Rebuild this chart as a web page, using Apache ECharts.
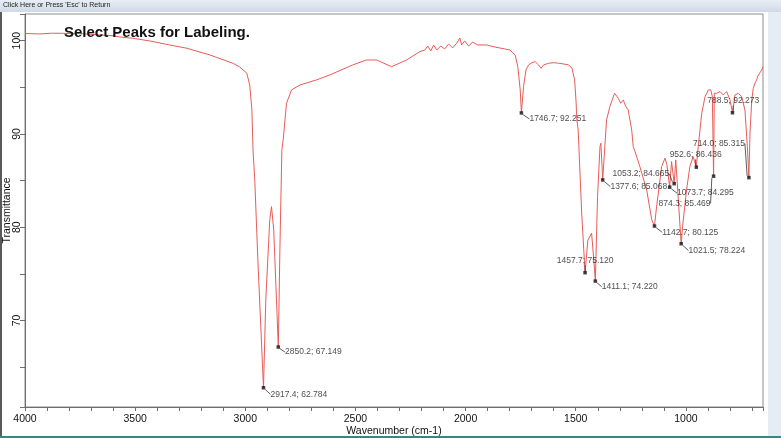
<!DOCTYPE html>
<html>
<head>
<meta charset="utf-8">
<script src="https://cdn.jsdelivr.net/npm/echarts@6/dist/echarts.min.js"></script>
<style>
    html, body { margin: 0; padding: 0; background: #fff; }
    #ChartIR { width: 781px; height: 438px; }
</style>
</head>
<body>
<div id="ChartIR"></div>
<script>
// spectrum: [wavenumber, transmittance]
const spectrum = [
    [4000, 100.77], [3933, 100.72], [3880, 100.80], [3829, 100.79], [3790, 100.74], [3752, 100.77],
    [3700, 100.68], [3661, 100.61], [3610, 100.55], [3570, 100.40], [3511, 100.26], [3434, 99.97],
    [3343, 99.54], [3266, 99.19], [3161, 98.47], [3057, 97.58], [3025, 97.18], [2993, 96.51],
    [2980, 95.25], [2970, 92.57], [2965, 88.28], [2957, 85.07], [2952, 84.86], [2943, 76.5],
    [2917.4, 62.784], [2907, 72.2], [2889, 80.8], [2881, 82.21], [2871, 79.72], [2862, 74.36],
    [2850.2, 67.149], [2843, 77.57], [2834, 88.29], [2828, 89.36], [2813, 93.29], [2790, 94.72],
    [2752, 95.25], [2677, 95.79], [2616, 96.33], [2512, 97.40], [2450, 97.93], [2404, 97.93],
    [2336, 97.21], [2268, 97.93], [2208, 98.82], [2185, 99.0], [2172, 99.43], [2158, 98.90],
    [2145, 99.54], [2131, 99.0], [2113, 99.43], [2095, 99.11], [2077, 99.65], [2059, 99.22],
    [2040, 99.75], [2026, 100.29], [2018, 99.54], [2004, 99.97], [1986, 99.43], [1968, 99.86],
    [1945, 99.54], [1905, 99.54], [1867, 99.32], [1822, 99.11], [1799, 99.0], [1790, 98.82],
    [1775, 98.47], [1763, 97.21], [1752, 94.72], [1746.7, 92.251], [1737, 95.07], [1726, 96.86],
    [1714, 97.40], [1699, 97.64], [1684, 97.75], [1669, 97.40], [1657, 97.04], [1646, 97.40],
    [1623, 97.58], [1600, 97.64], [1578, 97.58], [1555, 97.50], [1532, 97.40], [1517, 97.04],
    [1505, 95.79], [1499, 93.65], [1495, 91.51], [1489, 90.43], [1473, 81.51], [1457.7, 75.120],
    [1445, 78.6], [1428, 79.36], [1418, 76.5], [1411.1, 74.220], [1401, 83.29], [1390, 88.64],
    [1386, 89.0], [1377.6, 85.068], [1368, 88.64], [1360, 91.50], [1345, 92.93], [1324, 94.36],
    [1307, 93.83], [1296, 93.29], [1284, 93.65], [1273, 92.93], [1262, 92.57], [1246, 90.43],
    [1239, 88.64], [1231, 88.11], [1209, 86.50], [1178, 84.0], [1155, 80.79], [1142.7, 80.125],
    [1133, 82.21], [1110, 86.50], [1095, 87.40], [1086, 86.68], [1073.7, 84.295], [1065, 87.04],
    [1053.2, 84.665], [1046, 87.22], [1037, 87.43], [1021.5, 78.224], [1015, 80.07], [997, 84.0],
    [982, 86.50], [967, 87.57], [952.6, 86.436], [944, 88.64], [928, 92.22], [913, 94.0],
    [898, 94.72], [887, 94.72], [880, 94.0], [874.3, 85.469], [871, 94.36], [860, 94.36],
    [845, 94.54], [830, 94.18], [815, 94.54], [800, 93.65], [788.5, 92.273], [777, 94.18],
    [762, 94.36], [747, 94.0], [732, 92.57], [721, 88.64], [714.0, 85.315], [709, 90.11],
    [701, 93.65], [694, 94.90], [686, 95.47], [679, 95.79], [673, 96.22], [664, 96.33],
    [656, 96.86], [650, 97.21]
]

// labelled peaks
const peakWn = [2917.4, 2850.2, 1746.7, 1457.7, 1411.1, 1377.6, 1142.7, 1073.7, 1053.2, 1021.5, 952.6, 874.3, 788.5, 714.0]
const peakT = [62.784, 67.149, 92.251, 75.120, 74.220, 85.068, 80.125, 84.295, 84.665, 78.224, 86.436, 85.469, 92.273, 85.315]

// where each peak label sits relative to its dot (px)
const labelShift = [
    [7, 6.6], [6.7, 5], [8, 6], [-28.3, -12], [6.4, 5.7], [7.7, 6.7], [7.7, 6.3],
    [7.4, 6], [-61.6, -10], [7.3, 6.7], [-26.7, -12.3], [-55, 27.3], [-25.3, -11.6], [-56, -34]
]

const font = '"Liberation Sans", Arial, sans-serif'
const dom = echarts.init(document.getElementById('ChartIR'))

let option = {
    animation: false,
    backgroundColor: '#fff',
    title: {
        text: 'Select Peaks for Labeling.',
        left: 64,
        top: 25,
        padding: 0,
        textStyle: {
            fontFamily: font,
            fontSize: 15,
            fontWeight: 'bold',
            color: '#111'
        }
    },
    graphic: [
        // window chrome
        {
            type: 'rect',
            shape: { x: 0, y: 0, width: 781, height: 12 },
            style: {
                fill: new echarts.graphic.LinearGradient(0, 0, 0, 1, [
                    { offset: 0, color: '#e9eef5' },
                    { offset: 1, color: '#cfd9e6' }
                ])
            }
        },
        {
            type: 'text',
            left: 3,
            top: 2,
            style: {
                text: "Click Here or Press 'Esc' to Return",
                font: '7px ' + font,
                fill: '#222'
            }
        },
        { type: 'rect', shape: { x: 0, y: 12, width: 2, height: 426 }, style: { fill: '#5a5a5a' } },
        { type: 'rect', shape: { x: 768, y: 12, width: 13, height: 426 }, style: { fill: '#e6ecf3' } },
        { type: 'rect', shape: { x: 0, y: 436, width: 781, height: 2 }, style: { fill: '#3d8488' } }
    ],
    grid: {
        left: 25,
        right: 18,
        top: 14,
        bottom: 31,
        outerBoundsMode: 'none',
        containLabel: false,
        show: true,
        borderColor: '#8c8c8c',
        borderWidth: 1
    },
    xAxis: {
        type: 'value',
        inverse: true,
        min: 650,
        max: 4000,
        minInterval: 500,
        maxInterval: 500,
        name: 'Wavenumber (cm-1)',
        nameLocation: 'middle',
        nameGap: 19,
        nameMoveOverlap: false,
        nameTextStyle: { fontFamily: font, fontSize: 10.5, color: '#111' },
        axisLine: { onZero: false, lineStyle: { color: '#6e6e6e' } },
        axisTick: { length: 4, lineStyle: { color: '#6e6e6e' } },
        minorTick: { show: true, splitNumber: 5, length: 4, lineStyle: { color: '#6e6e6e' } },
        axisLabel: {
            margin: 7,
            fontFamily: font,
            fontSize: 10.5,
            color: '#111',
            formatter: v => (v % 500 === 0 ? String(v) : '')
        },
        splitLine: { show: false }
    },
    yAxis: {
        type: 'value',
        min: 60.72,
        max: 102.86,
        minInterval: 10,
        maxInterval: 10,
        name: 'Transmittance',
        nameLocation: 'middle',
        nameGap: 12.5,
        nameMoveOverlap: false,
        nameTextStyle: { fontFamily: font, fontSize: 10.5, color: '#111' },
        axisLine: { show: true, onZero: false, lineStyle: { color: '#6e6e6e' } },
        axisTick: { show: true, length: 5, lineStyle: { color: '#6e6e6e' } },
        minorTick: { show: true, splitNumber: 2, length: 5, lineStyle: { color: '#6e6e6e' } },
        axisLabel: {
            rotate: 90,
            margin: 2,
            fontFamily: font,
            fontSize: 10.5,
            color: '#111',
            formatter: v => (v % 10 === 0 ? String(v) : '')
        },
        splitLine: { show: false }
    },
    series: [
        {
            type: 'line',
            data: spectrum,
            symbol: 'none',
            smooth: false,
            lineStyle: { color: '#e85c58', width: 1 },
            z: 2
        },
        {
            type: 'scatter',
            data: peakWn.map((w, i) => [w, peakT[i]]),
            symbol: 'rect',
            symbolSize: 3.5,
            itemStyle: { color: '#111' },
            z: 3,
            label: {
                show: true,
                position: 'inside',
                align: 'left',
                verticalAlign: 'middle',
                fontFamily: font,
                fontSize: 8.5,
                color: '#1a1a1a',
                formatter: p => p.value[0].toFixed(1) + '; ' + p.value[1].toFixed(3)
            },
            labelLine: {
                show: true,
                lineStyle: { color: '#333', width: 0.8 }
            },
            labelLayout: p => ({
                dx: labelShift[p.dataIndex][0],
                dy: labelShift[p.dataIndex][1]
            })
        }
    ]
}

dom.setOption(option)
</script>
</body>
</html>
